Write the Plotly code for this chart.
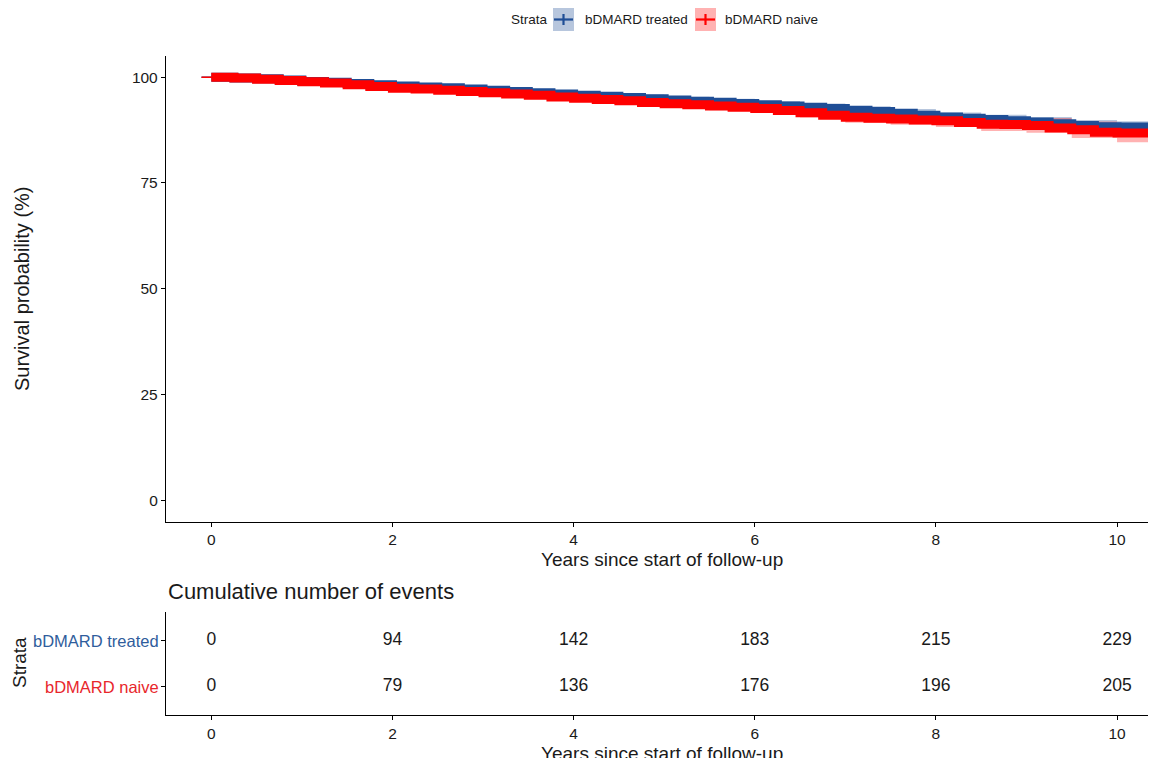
import plotly.graph_objects as go

# ---------------- data ----------------
times = [0, 0.25, 0.5, 0.75, 1.0, 1.25, 1.5, 1.75, 2.0, 2.25, 2.5, 2.75, 3.0, 3.25, 3.5, 3.75,
         4.0, 4.25, 4.5, 4.75, 5.0, 5.25, 5.5, 5.75, 6.0, 6.25, 6.5, 6.75, 7.0, 7.25, 7.5, 7.75,
         8.0, 8.25, 8.5, 8.75, 9.0, 9.25, 9.5, 9.75, 10.0, 10.25, 10.5]
treated_surv = [100, 99.8, 99.6, 99.3, 99.0, 98.8, 98.5, 98.2, 97.9, 97.7, 97.5, 97.2, 96.9, 96.6, 96.3, 96.0,
                95.7, 95.5, 95.2, 94.9, 94.6, 94.3, 94.1, 93.8, 93.5, 93.2, 92.9, 92.6, 92.2, 91.9, 91.5, 91.0,
                90.6, 90.3, 90.0, 89.7, 89.4, 89.0, 88.6, 88.3, 88.2, 88.2, 88.2]
naive_surv = [100, 99.8, 99.5, 99.2, 98.9, 98.6, 98.2, 97.8, 97.4, 97.2, 96.9, 96.6, 96.3, 96.0, 95.7, 95.3,
              95.0, 94.7, 94.4, 94.0, 93.7, 93.5, 93.2, 92.9, 92.6, 92.1, 91.6, 91.0, 90.5, 90.3, 90.1, 89.9,
              89.7, 89.3, 88.9, 88.8, 88.6, 88.0, 87.6, 87.0, 86.8, 86.8, 86.8]

ci_times = [0, 0.5, 1.0, 1.5, 2.0, 2.5, 3.0, 3.5, 4.0, 4.5, 5.0, 5.5, 6.0, 6.5, 7.0, 7.5,
            8.0, 8.5, 9.0, 9.5, 10.0, 10.5]
treated_low = [100, 99.4, 98.7, 98.1, 97.45, 97.0, 96.35, 95.7, 95.05, 94.5, 93.85, 93.3, 92.65, 92.0, 91.25, 90.5,
               89.55, 88.9, 88.2, 87.3, 86.8, 86.8]
treated_up = [100, 99.8, 99.3, 98.9, 98.35, 98.0, 97.45, 96.9, 96.35, 95.9, 95.35, 94.9, 94.35, 93.8, 93.15, 92.5,
              91.65, 91.1, 90.6, 89.9, 89.6, 89.6]
naive_low = [100, 99.25, 98.55, 97.75, 96.85, 96.3, 95.65, 95.0, 94.2, 93.55, 92.8, 92.2, 91.55, 90.45, 89.25, 88.75,
             88.25, 87.3, 86.85, 85.65, 84.6, 84.5]
naive_up = [100, 99.75, 99.25, 98.65, 97.95, 97.5, 96.95, 96.4, 95.8, 95.25, 94.6, 94.2, 93.65, 92.75, 91.75, 91.45,
            91.15, 90.5, 90.35, 89.55, 89.0, 89.1]

table_times = [0, 2, 4, 6, 8, 10]
treated_events = [0, 94, 142, 183, 215, 229]
naive_events = [0, 79, 136, 176, 196, 205]

strata = ["bDMARD treated", "bDMARD naive"]
strata_rows = [2, 1]
x_ticks = [0, 2, 4, 6, 8, 10]
y_ticks = [0, 25, 50, 75, 100]

# ---------------- style ----------------
BLUE = "#1f4e96"
RED = "#ff0000"
BLUE_FILL = "rgba(31,78,150,0.32)"
RED_FILL = "rgba(255,0,0,0.30)"
LABEL_COLORS = ["#2f5d9c", "#e8262b"]
FONT = "Liberation Sans, Arial, sans-serif"
TXT = "#1a1a1a"
W, H = 1156, 758
OFF = 8  # page body offset of the figure in the browser window


def py(p):
    return 1 - (p - OFF) / H


def px(p):
    return (p - OFF) / W


fig = go.Figure()

bands = [(treated_low, treated_up, BLUE_FILL), (naive_low, naive_up, RED_FILL)]
for low, up, fill in bands:
    fig.add_trace(go.Scatter(x=ci_times, y=low, mode="lines", line=dict(width=0, shape="hv"),
                             showlegend=False, hoverinfo="skip", xaxis="x", yaxis="y"))
    fig.add_trace(go.Scatter(x=ci_times, y=up, mode="lines", line=dict(width=0, shape="hv"),
                             fill="tonexty", fillcolor=fill, showlegend=False,
                             hoverinfo="skip", xaxis="x", yaxis="y"))
for surv, col in [(treated_surv, BLUE), (naive_surv, RED)]:
    fig.add_trace(go.Scatter(x=times, y=surv, mode="lines", line=dict(width=9, shape="hv", color=col),
                             showlegend=False, xaxis="x", yaxis="y"))
    fig.add_trace(go.Scatter(x=times[:1], y=surv[:1], mode="markers",
                             marker=dict(symbol="line-ew", size=14, line=dict(width=1.5, color=col)),
                             showlegend=False, hoverinfo="skip", xaxis="x", yaxis="y"))

# risk table numbers
for events, row in [(treated_events, 2), (naive_events, 1)]:
    fig.add_trace(go.Scatter(x=table_times, y=[row] * len(table_times), mode="text",
                             text=[str(v) for v in events],
                             textfont=dict(size=17.5, color=TXT, family=FONT),
                             showlegend=False, xaxis="x2", yaxis="y2"))

xr = [-0.5, 10.43]
axis_common = dict(showline=True, linecolor="black", linewidth=1.3, ticks="outside",
                   ticklen=4, tickwidth=1.2, tickcolor="black", showgrid=False, zeroline=False,
                   tickfont=dict(size=15.5, color=TXT, family=FONT))

fig.update_layout(
    width=W, height=H,
    margin=dict(l=0, r=0, t=0, b=0),
    plot_bgcolor="white", paper_bgcolor="white",
    showlegend=False,
    xaxis=dict(domain=[px(166), px(1156)], range=xr, tickvals=x_ticks, anchor="y", **axis_common),
    yaxis=dict(domain=[py(521.5), py(56)], range=[-5, 105], tickvals=y_ticks, anchor="x", **axis_common),
    xaxis2=dict(domain=[px(166), px(1156)], range=xr, tickvals=x_ticks, anchor="y2", **axis_common),
    yaxis2=dict(domain=[py(715), py(612)], range=[0.39, 2.63], tickvals=strata_rows,
                showticklabels=False, anchor="x2", **axis_common),
)

annotations = [
    dict(text="Survival probability (%)", x=px(22), y=py(289), textangle=-90,
         font=dict(size=20, color=TXT, family=FONT)),
    dict(text="Years since start of follow-up", x=px(662), y=py(559),
         font=dict(size=19, color=TXT, family=FONT)),
    dict(text="Years since start of follow-up", x=px(662), y=py(753),
         font=dict(size=19, color=TXT, family=FONT)),
    dict(text="Cumulative number of events", x=px(166), y=py(591), xanchor="left",
         font=dict(size=22, color=TXT, family=FONT)),
    dict(text="Strata", x=px(19), y=py(663), textangle=-90,
         font=dict(size=19, color=TXT, family=FONT)),
    dict(text="Strata", x=px(509), y=py(19), xanchor="left",
         font=dict(size=13.5, color=TXT, family=FONT)),
    dict(text=strata[0], x=px(583), y=py(19), xanchor="left",
         font=dict(size=13.5, color=TXT, family=FONT)),
    dict(text=strata[1], x=px(723), y=py(19), xanchor="left",
         font=dict(size=13.5, color=TXT, family=FONT)),
]
for a in annotations:
    a.update(xref="paper", yref="paper", showarrow=False)
    a.setdefault("xanchor", "center")
    a.setdefault("yanchor", "middle")
# coloured strata labels of the table rows
for name, row, col in zip(strata, strata_rows, LABEL_COLORS):
    annotations.append(dict(text=name, xref="paper", yref="y2", x=px(161), y=row,
                            xanchor="right", yanchor="middle", showarrow=False,
                            font=dict(size=16.5, color=col, family=FONT)))
fig.update_layout(annotations=annotations)

shapes = []
for x0, x1, col, fill in [(553, 574, BLUE, BLUE_FILL), (695, 716, RED, RED_FILL)]:
    shapes.append(dict(type="rect", xref="paper", yref="paper", x0=px(x0), x1=px(x1),
                       y0=py(31), y1=py(8), fillcolor=fill, line=dict(width=0)))
    shapes.append(dict(type="line", xref="paper", yref="paper", x0=px(x0 + 1), x1=px(x1 - 1),
                       y0=py(19.5), y1=py(19.5), line=dict(color=col, width=2.2)))
    xm = (x0 + x1) / 2
    shapes.append(dict(type="line", xref="paper", yref="paper", x0=px(xm), x1=px(xm),
                       y0=py(14), y1=py(25), line=dict(color=col, width=2.2)))
fig.update_layout(shapes=shapes)

fig.write_html("out.html")
